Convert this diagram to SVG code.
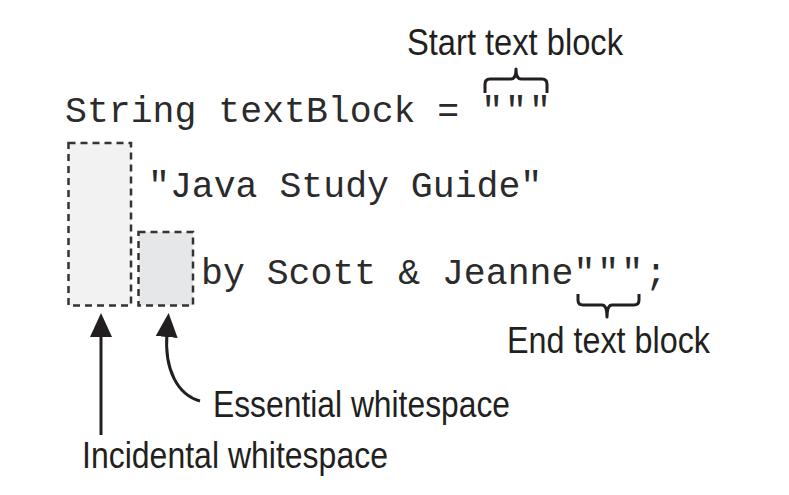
<svg xmlns="http://www.w3.org/2000/svg" width="789" height="495" viewBox="0 0 789 495">
<style>
.code{font-family:"Liberation Mono","Courier New",monospace;font-size:36.5px;fill:#2b2b2b}
.lbl{font-family:"Liberation Sans Narrow","Liberation Sans",Arial,sans-serif;font-size:36px;fill:#231f20}
.ws{stroke:#333;stroke-width:2.5;stroke-dasharray:7 5}
.brace{fill:none;stroke:#231f20;stroke-width:3;stroke-linejoin:round}
.arr{fill:none;stroke:#231f20;stroke-width:3}
</style>
<defs>
<marker id="ah" viewBox="0 0 24 22" refX="4" refY="11" markerWidth="24" markerHeight="22" markerUnits="userSpaceOnUse" orient="auto">
<path d="M0,0 L24,11 L0,22 z" fill="#231f20"/>
</marker>
</defs>
<rect width="789" height="495" fill="#fff"/>
<g id="incidental-box"><rect class="ws" x="68.5" y="143" width="62.5" height="162.5" fill="#f2f2f2"/></g>
<g id="essential-box"><rect class="ws" x="138.5" y="232" width="54.5" height="73.5" fill="#e6e7e8"/></g>
<g id="code">
<text class="code" x="65" y="122">String textBlock = <tspan letter-spacing="2">"""</tspan></text>
<text class="code" x="148" y="197">"Java Study Guide"</text>
<text class="code" x="201" y="284">by Scott &amp; Jeanne<tspan letter-spacing="2">"""</tspan>;</text>
</g>
<g id="start-label"><text class="lbl" x="407" y="55" textLength="216" lengthAdjust="spacingAndGlyphs">Start text block</text></g>
<g id="end-label"><text class="lbl" x="507" y="353" textLength="203" lengthAdjust="spacingAndGlyphs">End text block</text></g>
<g id="essential-label"><text class="lbl" x="213" y="417" textLength="297" lengthAdjust="spacingAndGlyphs">Essential whitespace</text></g>
<g id="incidental-label"><text class="lbl" x="82" y="468" textLength="306" lengthAdjust="spacingAndGlyphs">Incidental whitespace</text></g>
<g id="connectors">
<path class="brace" d="M485,93 V84 Q485,79 490,79 H511 Q516,79 516,69 Q516,79 521,79 H542 Q547,79 547,84 V93"/>
<path class="brace" d="M578,294 V300 Q578,305 583,305 H602 Q607,305 607,317 Q607,305 612,305 H634 Q639,305 639,300 V294"/>
<path class="arr" d="M101,435 V333" marker-end="url(#ah)"/>
<path class="arr" d="M200,401 C178,395 164,370 167,333" marker-end="url(#ah)"/>
</g>
</svg>
